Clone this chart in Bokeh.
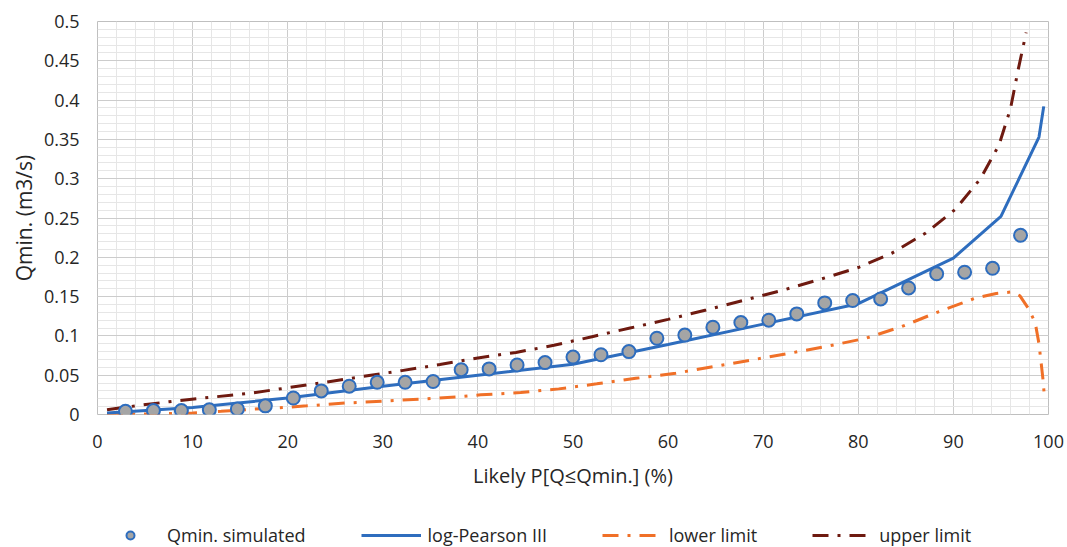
from bokeh.plotting import figure
from bokeh.layouts import column
from bokeh.models import Range1d, FixedTicker, CustomJSTickFormatter, Legend, LegendItem
from bokeh.embed import file_html
from bokeh.resources import INLINE

# ---------------- data ----------------
sim_p = [2.94, 5.88, 8.82, 11.76, 14.71, 17.65, 20.59, 23.53, 26.47, 29.41, 32.35,
         35.29, 38.24, 41.18, 44.12, 47.06, 50.00, 52.94, 55.88, 58.82, 61.76, 64.71,
         67.65, 70.59, 73.53, 76.47, 79.41, 82.35, 85.29, 88.24, 91.18, 94.12, 97.06]
sim_q = [0.004, 0.005, 0.005, 0.006, 0.007, 0.011, 0.021, 0.030, 0.036, 0.041, 0.041,
         0.042, 0.057, 0.058, 0.063, 0.066, 0.073, 0.076, 0.080, 0.097, 0.101, 0.111,
         0.117, 0.120, 0.128, 0.142, 0.145, 0.147, 0.161, 0.179, 0.181, 0.186, 0.228]

lp3_p = [1, 10, 20, 30, 40, 50, 60, 70, 80, 90, 95, 99, 99.5]
lp3_q = [0.002, 0.009, 0.021, 0.036, 0.050, 0.064, 0.089, 0.115, 0.141, 0.199, 0.252, 0.353, 0.392]

low_p = [1, 4, 7, 10, 13, 16, 19, 22, 26, 30, 34, 38, 40.3, 44.5, 48.5, 52.5, 56.6, 60.8,
         64.8, 68.8, 72.7, 76.7, 80.8, 84.6, 88.5, 92.3, 94.5, 96.2, 97.0, 97.9, 98.6,
         99.0, 99.2, 99.4, 99.6]
low_q = [0.0, 0.0005, 0.001, 0.002, 0.004, 0.0065, 0.0085, 0.011, 0.0145, 0.017, 0.0195,
         0.0225, 0.025, 0.028, 0.0326, 0.039, 0.046, 0.0525, 0.061, 0.0694, 0.0778, 0.0867,
         0.097, 0.112, 0.131, 0.148, 0.154, 0.156, 0.151, 0.1345, 0.117, 0.090, 0.0685,
         0.047, 0.019]

up_p = [1, 4, 8, 12, 16, 20, 24, 28, 32, 36, 40, 44, 48, 52, 56, 60, 64, 68, 72, 76, 80,
        83.5, 87.1, 90.2, 92.85, 94.8, 96.0, 96.8, 97.65]
up_q = [0.006, 0.011, 0.017, 0.022, 0.027, 0.034, 0.041, 0.0486, 0.0558, 0.0635, 0.072,
        0.079, 0.088, 0.099, 0.110, 0.121, 0.133, 0.1455, 0.158, 0.172, 0.187, 0.205,
        0.231, 0.261, 0.300, 0.343, 0.389, 0.438, 0.486]

x_ticks = [0, 10, 20, 30, 40, 50, 60, 70, 80, 90, 100]
x_minor = [0, 2, 4, 6, 8, 10, 12, 14, 16, 18, 20, 22, 24, 26, 28, 30, 32, 34, 36, 38, 40,
           42, 44, 46, 48, 50, 52, 54, 56, 58, 60, 62, 64, 66, 68, 70, 72, 74, 76, 78, 80,
           82, 84, 86, 88, 90, 92, 94, 96, 98, 100]
y_ticks = [0, 0.05, 0.1, 0.15, 0.2, 0.25, 0.3, 0.35, 0.4, 0.45, 0.5]
y_minor = [0, 0.01, 0.02, 0.03, 0.04, 0.05, 0.06, 0.07, 0.08, 0.09, 0.1, 0.11, 0.12, 0.13,
           0.14, 0.15, 0.16, 0.17, 0.18, 0.19, 0.2, 0.21, 0.22, 0.23, 0.24, 0.25, 0.26, 0.27,
           0.28, 0.29, 0.3, 0.31, 0.32, 0.33, 0.34, 0.35, 0.36, 0.37, 0.38, 0.39, 0.4, 0.41,
           0.42, 0.43, 0.44, 0.45, 0.46, 0.47, 0.48, 0.49, 0.5]

FONT = "Open Sans"
TXT = "#262626"
BLUE = "#2E6DBE"
ORANGE = "#F07028"
DARK = "#6E1A10"
DASH = "16 9 3 9"
MARKER_FILL = "#A5A5A5"

p = figure(frame_width=951, frame_height=393, output_backend="svg", toolbar_location=None,
           x_range=Range1d(0, 100), y_range=Range1d(0, 0.5),
           min_border_left=97, min_border_right=19, min_border_top=21, min_border_bottom=86)
p.background_fill_color = "white"
p.border_fill_color = "white"
p.outline_line_color = "#BFBFBF"
p.outline_line_width = 1

p.xaxis.ticker = FixedTicker(ticks=x_ticks, minor_ticks=x_minor)
p.yaxis.ticker = FixedTicker(ticks=y_ticks, minor_ticks=y_minor)
p.xgrid.ticker = p.xaxis.ticker
p.ygrid.ticker = p.yaxis.ticker
p.yaxis.formatter = CustomJSTickFormatter(code="return (Math.round(tick*100)/100).toString();")

for g in (p.xgrid, p.ygrid):
    g.grid_line_color = "#CCCCCC"
    g.grid_line_width = 1
    g.minor_grid_line_color = "#E6E6E6"
    g.minor_grid_line_width = 1

for ax in (p.xaxis, p.yaxis):
    ax.axis_line_color = None
    ax.major_tick_line_color = None
    ax.minor_tick_line_color = None
    ax.major_tick_in = 0
    ax.major_tick_out = 0
    ax.minor_tick_in = 0
    ax.minor_tick_out = 0
    ax.major_label_text_font = FONT
    ax.major_label_text_font_size = "18px"
    ax.major_label_text_color = TXT
    ax.axis_label_text_font = FONT
    ax.axis_label_text_font_style = "normal"
    ax.axis_label_text_color = TXT

p.xaxis.axis_label_text_font_size = "20px"
p.yaxis.axis_label_text_font_size = "21px"
p.xaxis.major_label_standoff = 20
p.yaxis.major_label_standoff = 18
p.xaxis.axis_label = "Likely P[Q\u2264Qmin.] (%)"
p.yaxis.axis_label = "Qmin. (m3/s)"
p.xaxis.axis_label_standoff = 11
p.yaxis.axis_label_standoff = 3

p.line(up_p, up_q, line_color=DARK, line_width=3, line_dash=DASH)
p.line(low_p, low_q, line_color=ORANGE, line_width=3, line_dash=DASH)
p.line(lp3_p, lp3_q, line_color=BLUE, line_width=3)
p.scatter(sim_p, sim_q, size=13, fill_color=MARKER_FILL, line_color=BLUE, line_width=2)

# ---------------- legend strip below the chart ----------------
# its ranges lie outside every data value, so its renderers only serve as legend samples
q = figure(width=1067, height=47, output_backend="svg", toolbar_location=None,
           x_range=Range1d(-2, -1), y_range=Range1d(-2, -1),
           x_axis_type=None, y_axis_type=None,
           min_border_left=0, min_border_right=0, min_border_top=0, min_border_bottom=0)
q.grid.visible = False
q.outline_line_color = None
q.background_fill_color = None
q.border_fill_color = "white"

l_sim = q.scatter(sim_p, sim_q, size=13, fill_color=MARKER_FILL, line_color=BLUE, line_width=2)
l_lp3 = q.line(lp3_p, lp3_q, line_color=BLUE, line_width=3)
l_low = q.line(low_p, low_q, line_color=ORANGE, line_width=3, line_dash=DASH)
l_up = q.line(up_p, up_q, line_color=DARK, line_width=3, line_dash=DASH)

legend = Legend(items=[LegendItem(label="Qmin. simulated", renderers=[l_sim]),
                       LegendItem(label="log-Pearson III", renderers=[l_lp3]),
                       LegendItem(label="lower limit", renderers=[l_low]),
                       LegendItem(label="upper limit", renderers=[l_up])],
                orientation="horizontal", location=(3, 0))
legend.glyph_width = 60
legend.glyph_height = 20
legend.label_height = 20
legend.label_standoff = 7
legend.spacing = 55
legend.padding = 0
legend.margin = 0
legend.border_line_color = None
legend.background_fill_alpha = 0
legend.label_text_font = FONT
legend.label_text_font_size = "18px"
legend.label_text_color = TXT
q.add_layout(legend, "center")

layout = column(p, q, spacing=0)
open("out.html", "w").write(file_html(layout, INLINE))
